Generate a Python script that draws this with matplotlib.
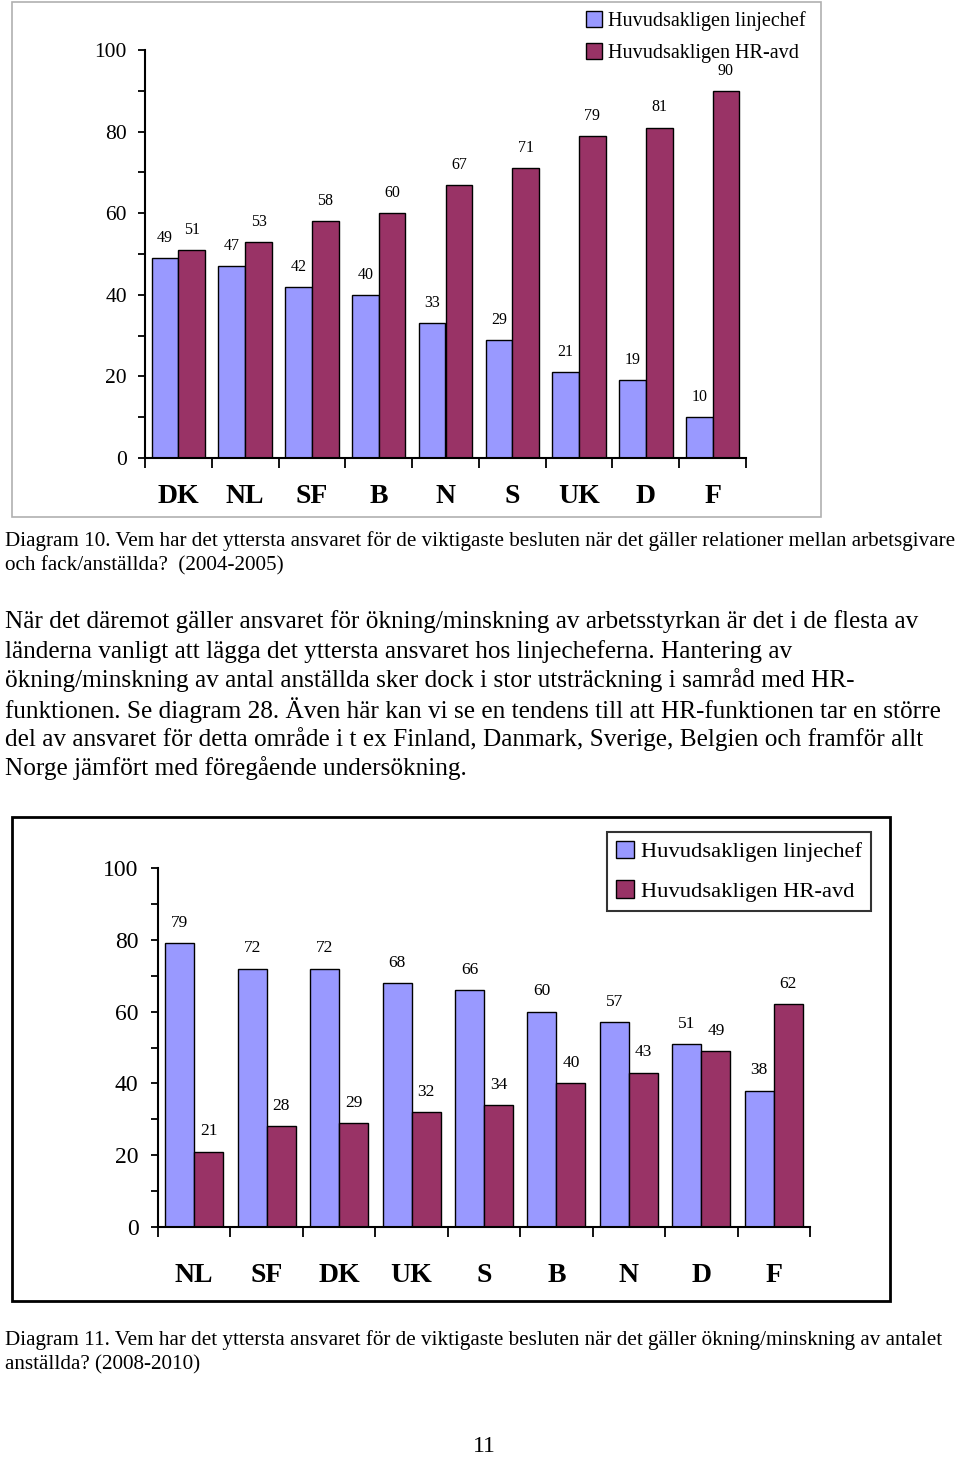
import numpy as np
import matplotlib.pyplot as plt
from matplotlib.patches import Rectangle

plt.rcParams['font.family'] = ['Liberation Serif', 'DejaVu Serif']

# Diagram 10 (2004-2005)
countries_10 = ['DK', 'NL', 'SF', 'B', 'N', 'S', 'UK', 'D', 'F']
linjechef_10 = [49, 47, 42, 40, 33, 29, 21, 19, 10]
hr_avd_10 = [51, 53, 58, 60, 67, 71, 79, 81, 90]

# Diagram 11 (2008-2010)
countries_11 = ['NL', 'SF', 'DK', 'UK', 'S', 'B', 'N', 'D', 'F']
linjechef_11 = [79, 72, 72, 68, 66, 60, 57, 51, 38]
hr_avd_11 = [21, 28, 29, 32, 34, 40, 43, 49, 62]

series_labels = ['Huvudsakligen linjechef', 'Huvudsakligen HR-avd']

caption_10 = ['Diagram 10. Vem har det yttersta ansvaret för de viktigaste besluten när det gäller relationer mellan arbetsgivare',
              'och fack/anställda?  (2004-2005)']
body = ['När det däremot gäller ansvaret för ökning/minskning av arbetsstyrkan är det i de flesta av',
        'länderna vanligt att lägga det yttersta ansvaret hos linjecheferna. Hantering av',
        'ökning/minskning av antal anställda sker dock i stor utsträckning i samråd med HR-',
        'funktionen. Se diagram 28. Även här kan vi se en tendens till att HR-funktionen tar en större',
        'del av ansvaret för detta område i t ex Finland, Danmark, Sverige, Belgien och framför allt',
        'Norge jämfört med föregående undersökning.']
caption_11 = ['Diagram 11. Vem har det yttersta ansvaret för de viktigaste besluten när det gäller ökning/minskning av antalet',
              'anställda? (2008-2010)']

BLUE = '#9999ff'
RED = '#993366'
W, H = 960, 1460


def fx(px):
    return px / W


def fy(py):
    return 1 - py / H


def draw_chart(ax, cats, blue, red, label_size, ytick_size, cat_pad, ytick_pad):
    x = np.arange(len(cats))
    b1 = ax.bar(x - 0.2, blue, 0.4, color=BLUE, edgecolor='black', linewidth=1, label=series_labels[0])
    b2 = ax.bar(x + 0.2, red, 0.4, color=RED, edgecolor='black', linewidth=1, label=series_labels[1])
    for bars, vals in ((b1, blue), (b2, red)):
        for rect, v in zip(bars, vals):
            ax.annotate(str(v), (rect.get_x() + rect.get_width() / 2, v),
                        xytext=(0, 14.5), textcoords='offset points',
                        ha='center', va='center', fontsize=label_size)
    ax.set_xlim(-0.5, len(cats) - 0.5)
    ax.set_ylim(0, 100)
    ax.set_xticks(x)
    ax.set_xticklabels(cats, fontweight='bold', fontsize=20)
    ax.set_xticks(np.arange(len(cats) + 1) - 0.5, minor=True)
    ax.tick_params(axis='x', which='major', length=0, pad=cat_pad)
    ax.tick_params(axis='x', which='minor', length=7, width=1.3)
    ax.set_yticks(range(0, 101, 20))
    ax.set_yticks(range(10, 100, 20), minor=True)
    ax.tick_params(axis='y', which='both', length=5, width=1.3, direction='out',
                   labelsize=ytick_size, pad=ytick_pad)
    for s in ('top', 'right'):
        ax.spines[s].set_visible(False)
    for s in ('left', 'bottom'):
        ax.spines[s].set_linewidth(1.5)
    ax.set_facecolor('none')


fig = plt.figure(figsize=(9.6, 14.6), dpi=100)

# chart frames
fig.add_artist(Rectangle((fx(12), fy(517)), fx(821) - fx(12), fy(2) - fy(517),
                         transform=fig.transFigure, fill=False, edgecolor='#b0b0b0', linewidth=1.2))
fig.add_artist(Rectangle((fx(12), fy(1301)), fx(890) - fx(12), fy(817) - fy(1301),
                         transform=fig.transFigure, fill=False, edgecolor='black', linewidth=2))

# Diagram 10
ax1 = fig.add_axes([fx(145), fy(458), fx(746) - fx(145), fy(50) - fy(458)])
draw_chart(ax1, countries_10, linjechef_10, hr_avd_10, 11.5, 15.5, 19, 8)
ax1.legend(loc='upper left', bbox_to_anchor=(fx(578), fy(3)), bbox_transform=fig.transFigure,
           frameon=False, fontsize=14.5, handlelength=0.8, handleheight=0.8,
           handletextpad=0.3, labelspacing=0.62, borderaxespad=0)

# Diagram 11
ax2 = fig.add_axes([fx(158), fy(1227), fx(810) - fx(158), fy(868) - fy(1227)])
draw_chart(ax2, countries_11, linjechef_11, hr_avd_11, 12.5, 17, 26, 9)
leg = ax2.legend(loc='upper left', bbox_to_anchor=(fx(607), fy(832)), bbox_transform=fig.transFigure,
                 frameon=True, fancybox=False, fontsize=16.2, handlelength=0.8, handleheight=0.8,
                 handletextpad=0.3, labelspacing=0.8, borderaxespad=0, borderpad=0.4)
leg.get_frame().set_edgecolor('black')
leg.get_frame().set_linewidth(1.5)

# page text
for i, line in enumerate(caption_10):
    fig.text(fx(5), fy(541 + 25 * i), line, fontsize=15.2, va='center', ha='left')
for i, line in enumerate(body):
    fig.text(fx(5), fy(622 + 29.2 * i), line, fontsize=18.2, va='center', ha='left')
for i, line in enumerate(caption_11):
    fig.text(fx(5), fy(1340 + 25 * i), line, fontsize=15.2, va='center', ha='left')
fig.text(fx(484), fy(1447), '11', fontsize=17, va='center', ha='center')

fig.savefig('out.png', dpi=100, facecolor='white')
